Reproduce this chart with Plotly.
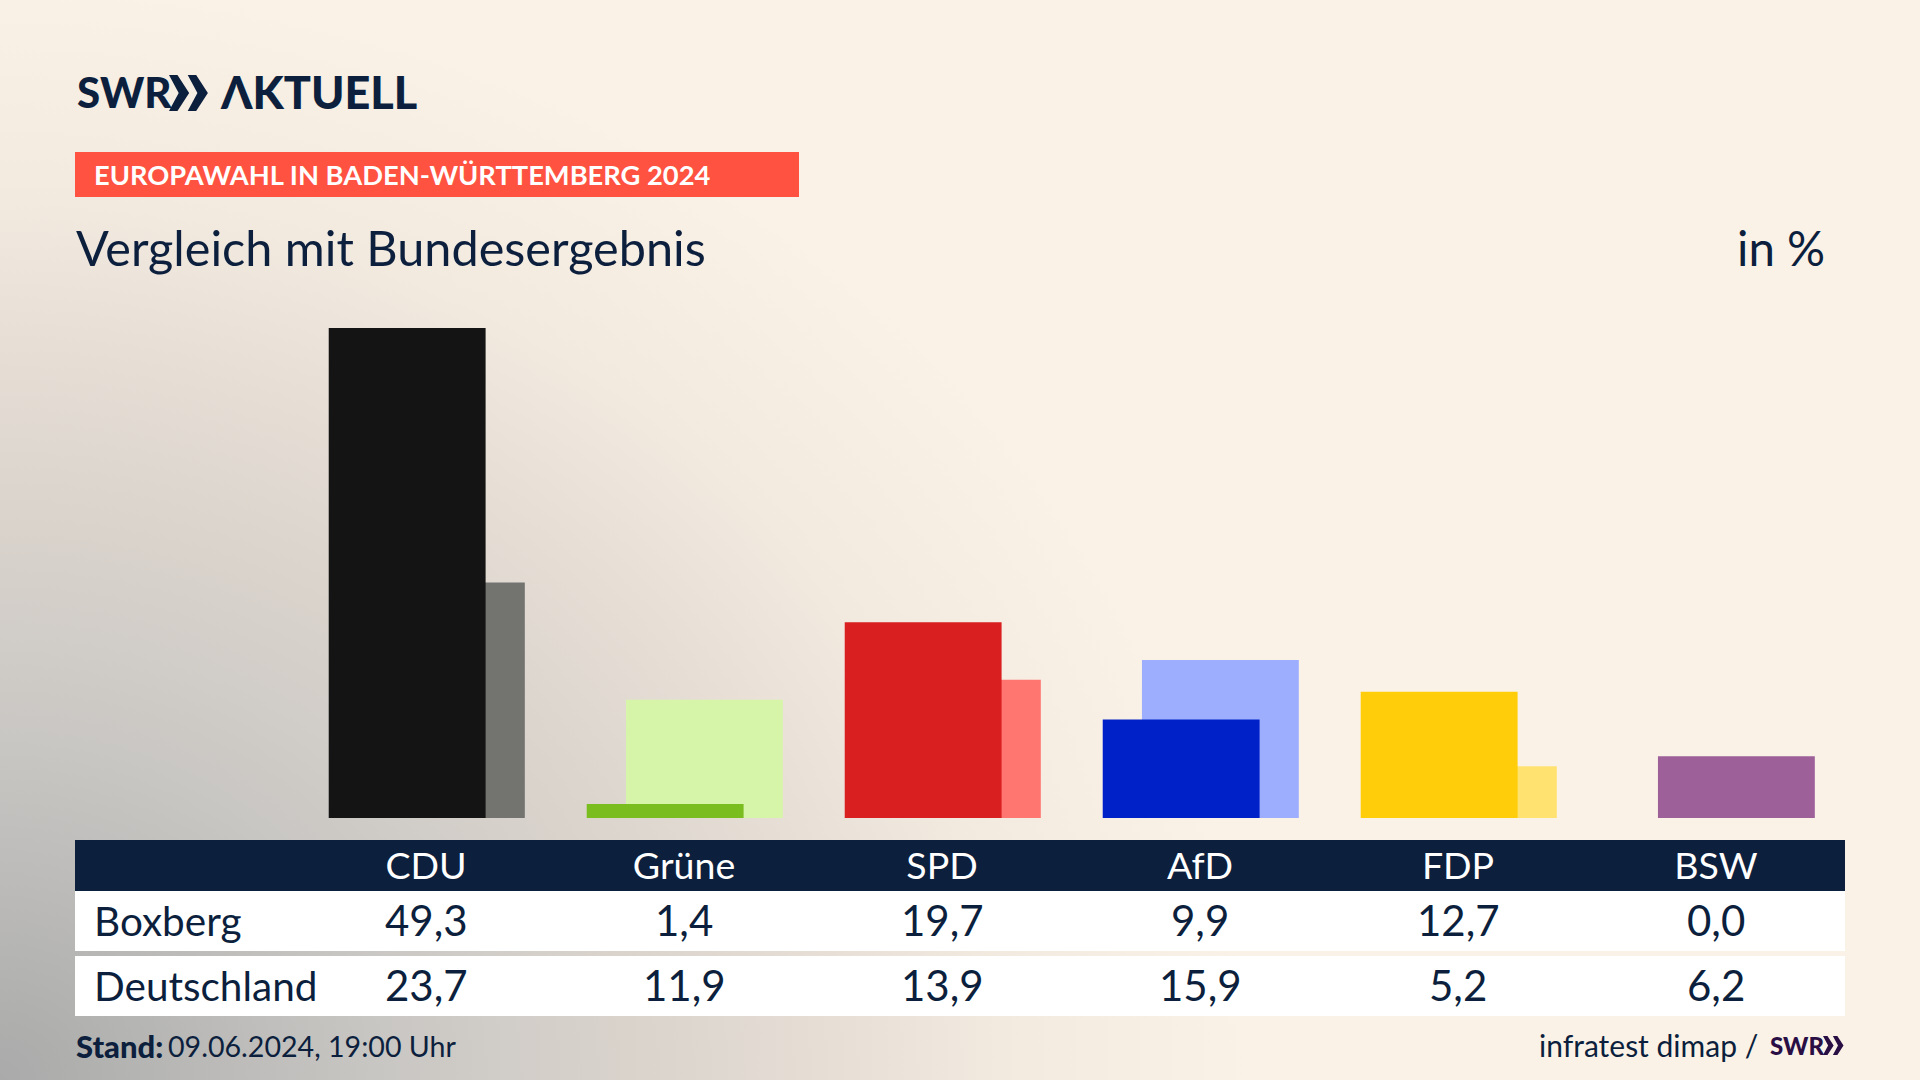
import base64
import plotly.graph_objects as go

parties = ["CDU", "Grüne", "SPD", "AfD", "FDP", "BSW"]
boxberg = [49.3, 1.4, 19.7, 9.9, 12.7, 0.0]
deutschland = [23.7, 11.9, 13.9, 15.9, 5.2, 6.2]
dark_colors = ["#141414", "#7ABD1E", "#D91F1F", "#0020C8", "#FFCD0A", "#7A2C78"]
light_colors = ["#737370", "#D7F5A8", "#FF7570", "#9DAEFF", "#FFE270", "#9D6098"]
row_names = ["Boxberg", "Deutschland"]

W, H = 1920, 1080
NAVY = "#0C1F3D"
FONT = "Lato"

def px(x):
    return x / W

def py(y):
    return 1 - y / H

def fmt(v):
    return f"{v:.1f}".replace(".", ",")

bar_w = 0.608
shift = 0.076
nudge = 0.003

fig = go.Figure()
fig.add_bar(x=parties, y=deutschland, name="Deutschland", marker=dict(color=light_colors, line_width=0),
            width=bar_w, offset=nudge + shift - bar_w / 2)
fig.add_bar(x=parties, y=boxberg, name="Boxberg", marker=dict(color=dark_colors, line_width=0),
            width=bar_w, offset=nudge - shift - bar_w / 2)

def rect(x0, y0, x1, y1, color):
    return dict(type="rect", xref="paper", yref="paper", x0=px(x0), x1=px(x1), y0=py(y0), y1=py(y1),
                fillcolor=color, line_width=0, layer="below")

def chevrons(x0, y0, h, color):
    w = h * 0.56
    gap = h * 0.52
    out = []
    for k in range(2):
        a = x0 + k * gap
        pts = [(a, y0), (a + w * 0.42, y0), (a + w, y0 + h / 2), (a + w * 0.42, y0 + h), (a, y0 + h),
               (a + w * 0.48, y0 + h / 2)]
        path = "M" + " L".join(f"{px(p)},{py(q)}" for p, q in pts) + " Z"
        out.append(dict(type="path", xref="paper", yref="paper", path=path, fillcolor=color, line_width=0))
    return out

shapes = [
    rect(75, 152, 799, 197, "#FF5240"),
    rect(75, 840, 1845, 891, NAVY),
    rect(75, 891, 1845, 951, "#FFFFFF"),
    rect(75, 956, 1845, 1016, "#FFFFFF"),
] + chevrons(169, 75, 36, NAVY) + chevrons(1823, 1036, 19, "#2A0F45")

def text(s, x, y, size, color=NAVY, family=FONT, anchor="left", weight=None):
    return dict(text=s, xref="paper", yref="paper", x=px(x), y=py(y), xanchor=anchor, yanchor="middle",
                showarrow=False, align=anchor, font=dict(family=family, size=size, color=color,
                                                         weight=weight or 400))

ann = [
    text("SWR", 75, 92, 42, weight=900),
    text("ΛKTUELL", 218, 92, 45, weight=900),
    text("EUROPAWAHL IN BADEN-WÜRTTEMBERG 2024", 92, 175, 27.3, color="#FFFFFF", weight=700),
    text("Vergleich mit Bundesergebnis", 73.5, 247, 48.6),
    text("in %", 1826.5, 247, 47.5, anchor="right"),
    text("Stand:", 74, 1046, 31, weight=900),
    text("09.06.2024, 19:00 Uhr", 166, 1046, 28.6),
    text("infratest dimap /", 1760, 1045, 30, anchor="right"),
    text("SWR", 1768, 1045, 24, color="#2A0F45", weight=900),
]
for name, vals, yc in zip(row_names, [boxberg, deutschland], [920, 985]):
    ann.append(text(name, 92, yc, 40.5))
    for p, v in zip(parties, vals):
        ann.append(dict(text=fmt(v), x=p, xref="x", y=py(yc), yref="paper", xanchor="center", yanchor="middle",
                        showarrow=False, font=dict(family=FONT, size=42, color=NAVY)))

svg = f'''<svg xmlns="http://www.w3.org/2000/svg" width="{W}" height="{H}"><defs>
<radialGradient id="g" gradientUnits="userSpaceOnUse" cx="0" cy="0" r="1"
 gradientTransform="translate(0 {H}) scale(1250 1100)">
<stop offset="0" stop-color="#a9aaa9"/><stop offset="0.3" stop-color="#c8c6c3"/>
<stop offset="0.55" stop-color="#ddd6ce"/><stop offset="0.8" stop-color="#f2e9df"/>
<stop offset="1" stop-color="#fbf2e7"/></radialGradient></defs>
<rect width="{W}" height="{H}" fill="url(#g)"/></svg>'''
bg = "data:image/svg+xml;base64," + base64.b64encode(svg.encode()).decode()

fig.update_layout(
    width=W, height=H, margin=dict(l=0, r=0, t=0, b=0), showlegend=False, barmode="overlay",
    paper_bgcolor="#fbf2e7", plot_bgcolor="rgba(0,0,0,0)",
    shapes=shapes, annotations=ann,
    images=[dict(source=bg, xref="paper", yref="paper", x=0, y=1, sizex=1, sizey=1, sizing="stretch",
                 xanchor="left", yanchor="top", layer="below")],
    xaxis=dict(type="category", categoryorder="array", categoryarray=parties, range=[-426 / 258, (W - 426) / 258],
               showgrid=False, zeroline=False, showline=False, ticks="", ticklabelstandoff=22,
               tickfont=dict(family=FONT, size=37.5, color="#FFFFFF")),
    yaxis=dict(domain=[py(818), 1], range=[0, 818 / 9.94], visible=False, fixedrange=True),
)

fig.write_html("out.html", post_script="document.body.style.margin='0';document.documentElement.style.overflow='hidden';",
               config=dict(displayModeBar=False))
